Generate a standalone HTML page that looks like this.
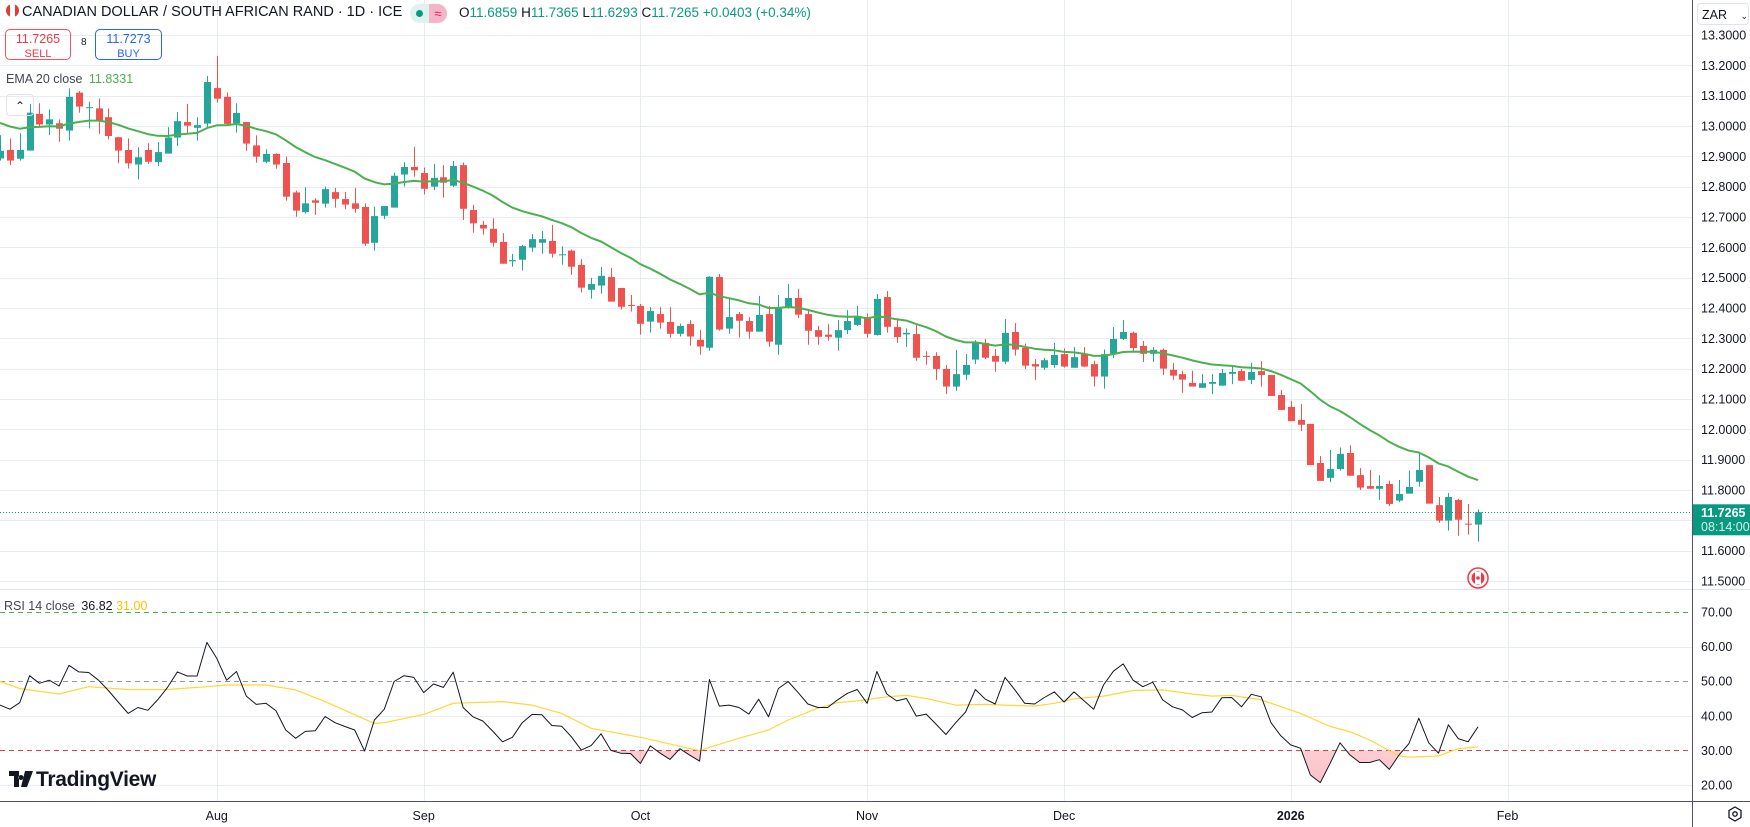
<!DOCTYPE html>
<html><head><meta charset="utf-8">
<style>
html,body{margin:0;padding:0;background:#fff;}
body{width:1750px;height:827px;overflow:hidden;position:relative;font-family:"Liberation Sans",Arial,sans-serif;color:#131722;}
svg{position:absolute;left:0;top:0;}
.abs{position:absolute;white-space:nowrap;}
</style></head>
<body>
<svg id="chart" width="1750" height="827"></svg>

<div class="abs" style="left:6px;top:4px;font-size:14.5px;color:#131722;">
<span style="display:inline-block;width:13px;height:13px;border-radius:50%;background:linear-gradient(90deg,#e53935 0 30%,#fff 30% 70%,#e53935 70%);vertical-align:-1px;margin-right:3px;"></span>CANADIAN DOLLAR / SOUTH AFRICAN RAND · 1D · ICE</div>
<div class="abs" style="left:410px;top:4px;width:37px;height:19px;border-radius:10px;background:#e0f2ef;overflow:hidden;">
<span style="position:absolute;left:6px;top:6px;width:7px;height:7px;border-radius:50%;background:#089981;"></span>
<span style="position:absolute;left:19px;top:0;width:18px;height:19px;background:#f3b6c8;color:#e91e63;font-size:13px;text-align:center;line-height:19px;">≈</span></div>
<div class="abs" style="left:459px;top:5px;font-size:13.5px;color:#131722;">O<span style="color:#089981">11.6859</span> H<span style="color:#089981">11.7365</span> L<span style="color:#089981">11.6293</span> C<span style="color:#089981">11.7265</span> <span style="color:#089981">+0.0403 (+0.34%)</span></div>

<div class="abs" style="left:5px;top:29px;width:66px;height:31px;border:1px solid #f7525f;border-radius:5px;text-align:center;color:#f23645;font-size:12.5px;line-height:14px;padding-top:2px;box-sizing:border-box;">11.7265<br><span style="font-size:11px">SELL</span></div>
<div class="abs" style="left:81px;top:37px;font-size:10px;">8</div>
<div class="abs" style="left:95px;top:29px;width:67px;height:31px;border:1px solid #2962ff;border-radius:5px;text-align:center;color:#2962ff;font-size:12.5px;line-height:14px;padding-top:2px;box-sizing:border-box;">11.7273<br><span style="font-size:11px">BUY</span></div>

<div class="abs" style="left:6px;top:72px;font-size:12.5px;color:#434651;">EMA 20 close <span style="color:#4caf50;margin-left:3px;">11.8331</span></div>
<div class="abs" style="left:6px;top:94px;width:26px;height:20px;border:1px solid #e0e3eb;border-radius:4px;text-align:center;font-size:12px;line-height:22px;">&#8963;</div>

<div class="abs" style="left:4px;top:599px;font-size:12.5px;color:#434651;">RSI 14 close <span style="color:#131722;margin-left:3px;">36.82</span> <span style="color:#f5c400;">31.00</span></div>

<div class="abs" style="left:1697px;top:3px;width:52px;height:22px;border:1px solid #e0e3eb;border-radius:4px;background:#fff;font-size:12.5px;line-height:22px;padding-left:4px;box-sizing:border-box;">ZAR <span style="font-size:9px;margin-left:10px;">&#8964;</span></div>

<div class="abs" style="left:9px;top:768px;font-size:21px;font-weight:bold;color:#131722;">
<svg width="24" height="16" style="position:relative;display:inline-block;vertical-align:-1px;"><path d="M0 0h10v16H5V5H0z M12 4a2.5 2.5 0 1 0 0.01 0z M16 0h8l-6 16h-6z" fill="#131722"/></svg><span style="margin-left:3px;letter-spacing:-0.3px;">TradingView</span></div>

<div class="abs" style="left:1727px;top:806px;width:16px;height:16px;">
<svg width="16" height="16" style="position:static"><polygon points="8,1 14,4.5 14,11.5 8,15 2,11.5 2,4.5" fill="none" stroke="#131722" stroke-width="1.3"/><circle cx="8" cy="8" r="2.2" fill="none" stroke="#131722" stroke-width="1.3"/></svg></div>

<script>
// ---- price data (daily candles) ----
const opens = [12.893,12.921,12.892,12.919,13.040,13.005,13.009,12.985,13.110,13.059,13.058,13.029,12.963,12.921,12.873,12.921,12.881,12.909,12.962,13.013,12.994,13.008,13.125,13.096,13.009,13.013,12.936,12.882,12.908,12.878,12.781,12.716,12.755,12.744,12.782,12.759,12.745,12.733,12.615,12.704,12.731,12.840,12.865,12.845,12.800,
12.831,12.803,12.871,12.723,12.674,12.661,12.618,12.554,12.559,12.599,12.615,12.621,12.575,12.589,12.542,12.460,12.474,12.502,12.466,12.410,12.407,12.355,12.380,12.354,12.315,12.347,12.295,12.269,12.502,12.332,12.380,12.357,12.322,12.380,12.279,12.403,12.433,12.380,12.327,12.312,12.302,
12.327,12.344,12.370,12.311,12.436,12.337,12.313,12.314,12.242,12.242,12.199,12.141,12.180,12.230,12.285,12.242,12.223,12.321,12.269,12.215,12.203,12.212,12.248,12.203,12.249,12.215,12.174,12.249,12.298,12.318,12.275,12.249,12.262,12.196,12.182,12.153,12.137,12.150,12.144,12.183,12.192,12.163,12.192,12.179,12.113,12.074,12.031,12.018,11.889,11.840,
11.869,11.922,11.849,11.813,11.804,11.820,11.765,11.788,11.827,11.882,11.750,11.699,11.767,11.689,11.6859];
const highs = [12.970,12.959,12.976,13.073,13.075,13.055,13.022,13.124,13.116,13.080,13.091,13.058,12.963,12.959,12.930,12.943,12.947,12.996,13.046,13.073,13.029,13.165,13.231,13.111,13.075,13.013,12.969,12.923,12.910,12.899,12.787,12.798,12.762,12.800,12.796,12.783,12.796,12.745,12.734,12.736,12.846,12.881,12.931,12.863,12.875,
12.871,12.885,12.880,12.740,12.687,12.696,12.647,12.578,12.608,12.644,12.654,12.674,12.604,12.593,12.561,12.499,12.535,12.532,12.466,12.443,12.413,12.403,12.403,12.403,12.349,12.360,12.327,12.505,12.512,12.433,12.387,12.370,12.440,12.407,12.443,12.479,12.463,12.393,12.341,12.347,12.360,
12.393,12.407,12.382,12.446,12.456,12.366,12.333,12.347,12.258,12.254,12.212,12.262,12.248,12.294,12.298,12.265,12.364,12.350,12.283,12.232,12.235,12.285,12.267,12.271,12.271,12.226,12.263,12.337,12.360,12.322,12.291,12.271,12.266,12.219,12.193,12.193,12.182,12.182,12.199,12.210,12.199,12.219,12.225,12.179,12.130,12.093,12.083,12.018,11.912,11.932,
11.940,11.948,11.872,11.866,11.849,11.831,11.833,11.864,11.926,11.882,11.777,11.790,11.771,11.754,11.7365];
const lows = [12.886,12.871,12.886,12.919,12.996,12.970,12.948,12.952,13.044,12.992,12.974,12.956,12.877,12.860,12.824,12.875,12.868,12.909,12.934,12.973,12.952,12.992,13.077,13.007,12.978,12.918,12.879,12.877,12.859,12.754,12.701,12.712,12.707,12.731,12.731,12.726,12.714,12.605,12.589,12.693,12.731,12.800,12.833,12.774,12.789,
12.764,12.798,12.690,12.648,12.642,12.602,12.546,12.536,12.523,12.585,12.579,12.566,12.543,12.509,12.451,12.431,12.447,12.421,12.395,12.388,12.312,12.319,12.332,12.302,12.306,12.276,12.246,12.259,12.325,12.315,12.303,12.299,12.322,12.272,12.246,12.398,12.367,12.279,12.279,12.292,12.259,
12.314,12.341,12.302,12.309,12.319,12.285,12.272,12.226,12.213,12.163,12.116,12.127,12.163,12.215,12.232,12.190,12.215,12.243,12.199,12.163,12.196,12.203,12.204,12.203,12.205,12.141,12.134,12.235,12.294,12.256,12.222,12.222,12.179,12.163,12.120,12.141,12.137,12.116,12.144,12.149,12.160,12.149,12.141,12.110,12.064,12.027,11.994,11.882,11.830,11.826,
11.864,11.847,11.800,11.804,11.767,11.747,11.760,11.788,11.811,11.755,11.692,11.666,11.649,11.653,11.6293];
const closes = [12.918,12.886,12.921,13.044,13.005,13.022,12.991,13.096,13.064,13.062,13.018,12.967,12.919,12.877,12.897,12.882,12.914,12.962,13.016,13.001,13.003,13.145,13.090,13.007,13.043,12.942,12.899,12.908,12.873,12.767,12.721,12.745,12.747,12.792,12.760,12.741,12.727,12.612,12.703,12.736,12.836,12.865,12.854,12.793,12.829,
12.813,12.868,12.727,12.679,12.662,12.615,12.546,12.558,12.604,12.627,12.627,12.579,12.577,12.536,12.467,12.479,12.506,12.421,12.404,12.408,12.348,12.390,12.352,12.315,12.341,12.306,12.273,12.503,12.329,12.370,12.358,12.322,12.377,12.289,12.403,12.433,12.378,12.325,12.305,12.305,12.327,
12.357,12.374,12.315,12.430,12.338,12.304,12.318,12.236,12.240,12.199,12.141,12.182,12.212,12.286,12.236,12.223,12.318,12.263,12.210,12.207,12.228,12.245,12.207,12.238,12.207,12.174,12.248,12.298,12.321,12.268,12.249,12.262,12.200,12.177,12.164,12.141,12.152,12.156,12.186,12.189,12.160,12.189,12.179,12.110,12.064,12.027,12.015,11.882,11.830,11.869,
11.919,11.847,11.808,11.804,11.813,11.754,11.787,11.810,11.866,11.755,11.699,11.777,11.702,11.687,11.7265];
const emaSeed = 13.02;
const priceTicks = [13.3,13.2,13.1,13.0,12.9,12.8,12.7,12.6,12.5,12.4,12.3,12.2,12.1,12.0,11.9,11.8,11.6,11.5];
const lastPrice = 11.7265;

// ---- RSI data ----
const rsiValues = [43.1,41.9,43.8,51.6,49.4,50.3,48.6,54.6,52.7,52.5,50.3,47.3,44.0,40.7,42.4,41.6,44.6,48.2,52.7,51.5,51.5,61.2,56.6,50.3,52.8,45.7,43.3,43.6,41.5,35.9,33.5,35.5,35.7,39.8,38.0,36.9,35.9,29.8,38.8,41.9,49.9,51.6,51.1,46.7,49.2,48.2,52.6,42.4,39.7,38.5,35.6,32.5,33.8,38.0,40.4,40.3,37.2,37.0,33.9,30.1,31.4,34.8,30.0,29.2,29.1,26.2,31.3,29.2,27.4,30.5,28.6,26.9,50.5,42.8,43.1,
42.4,40.5,44.8,39.7,47.9,49.9,46.7,43.4,42.4,42.4,44.6,46.5,47.6,43.6,52.8,46.3,44.3,45.0,39.9,40.5,37.6,34.6,38.0,41.1,47.6,44.8,43.4,51.1,47.5,43.6,43.4,45.3,46.9,44.0,46.9,44.4,41.9,48.9,52.9,55.0,50.3,48.4,49.7,44.6,42.6,41.7,39.5,40.9,41.1,45.2,45.3,42.6,46.2,45.5,38.0,34.2,31.6,30.6,22.9,20.7,26.3,32.2,28.7,26.5,26.5,27.3,24.5,28.7,32.0,39.3,32.2,29.2,37.4,33.4,32.5,36.82];
const rsiMaIndex = [0,2,6,9,13,17,21,23,27,30,33,38,39,43,46,51,54,57,60,65,71,72,75,78,80,83,85,87,90,92,94,97,100,102,105,107,109,112,115,118,121,123,125,128,132,135,137,139,142,143,146,148,150];
const rsiMaValues = [49.9,47.9,46.3,48.4,47.6,47.6,48.4,48.9,48.9,47.5,44.1,37.8,38.0,40.4,43.6,44.1,43.1,40.7,36.4,33.8,29.9,30.9,33.5,35.9,38.8,42.2,43.8,44.3,45.5,45.9,45.0,43.1,43.3,43.1,42.8,43.6,44.9,45.7,47.3,47.5,46.3,45.7,45.9,44.6,40.7,36.9,35.4,33.0,28.4,28.0,28.4,30.5,31.0];
const rsiTicks = [70,60,50,40,30,20];

// ---- time axis ----
const timeLabels = ["Aug","Sep","Oct","Nov","Dec","2026","Feb"];
const timeLabelIndex = [22,43,65,88,108,131,153];

// ---- axis functions ----
const PLOT_R = 1692;
const xOf = i => i * 9.853;
const yPrice = p => 35 + (13.3 - p) * 303.33;
const yRsi = v => 612 + (70 - v) * 3.46;

const NS = "http://www.w3.org/2000/svg";
const svg = document.getElementById("chart");
function mk(tag, attrs, parent){
  const e = document.createElementNS(NS, tag);
  for (const k in attrs) e.setAttribute(k, attrs[k]);
  (parent || svg).appendChild(e);
  return e;
}

// grid
const gGrid = mk("g", {});


timeLabelIndex.forEach(ix => {
  const x = Math.round(xOf(ix)) + 0.5;
  const vl = mk("line", {x1:x, x2:x, y1:0, y2:801, stroke:"#e8edf2", "stroke-width":1}, gGrid);
  
  
});
priceTicks.concat([11.7]).forEach(p => {
  const y = Math.round(yPrice(p)) + 0.5;
  const hl = mk("line", {x1:0, x2:PLOT_R, y1:y, y2:y, stroke:"#e8edf2", "stroke-width":1}, gGrid);
  
  
});
[60,40,20].forEach(v => {
  const y = Math.round(yRsi(v)) + 0.5;
  const hl = mk("line", {x1:0, x2:PLOT_R, y1:y, y2:y, stroke:"#e8edf2", "stroke-width":1}, gGrid);
  
  
});

// pane separator & axes borders
const sep = mk("line", {x1:0, x2:1750, y1:589.5, y2:589.5, stroke:"#e0e3eb", "stroke-width":1});


const bAxis = mk("line", {x1:0, x2:1750, y1:801.5, y2:801.5, stroke:"#50535e", "stroke-width":1});


const rAxis = mk("line", {x1:1692.5, x2:1692.5, y1:0, y2:827, stroke:"#50535e", "stroke-width":1});



// candles
const gC = mk("g", {});


for (let i = 0; i < closes.length; i++) {
  const up = closes[i] >= opens[i];
  const col = up ? "#26a69a" : "#ef5350";
  const x = Math.round(xOf(i)) + 0.5;
  const g = mk("g", {}, gC);
  
  
  mk("line", {x1:x, x2:x, y1:yPrice(highs[i]), y2:yPrice(lows[i]), stroke:col, "stroke-width":1}, g);
  const yt = yPrice(Math.max(opens[i], closes[i]));
  const yb = yPrice(Math.min(opens[i], closes[i]));
  mk("rect", {x:x-3.5, y:yt, width:7, height:Math.max(1, yb-yt), fill:col}, g);
}

// EMA 20
let ema = emaSeed, pts = [];
const alpha = 2 / 21;
for (let i = 0; i < closes.length; i++) {
  ema = alpha * closes[i] + (1 - alpha) * ema;
  pts.push(xOf(i).toFixed(1) + "," + yPrice(ema).toFixed(1));
}
const emaLine = mk("polyline", {points:pts.join(" "), fill:"none", stroke:"#4caf50", "stroke-width":2, "stroke-linejoin":"round"});



// last price line
const lpY = Math.round(yPrice(lastPrice)) + 0.5;
const lp = mk("line", {x1:0, x2:PLOT_R, y1:lpY, y2:lpY, stroke:"#089981", "stroke-width":1, "stroke-dasharray":"1 2"});



// price axis labels
priceTicks.forEach(p => {
  const t = mk("text", {x:1701, y:yPrice(p)+4.5, "font-size":"12.5", fill:"#131722", "font-family":"Liberation Sans, sans-serif"});
  t.textContent = p.toFixed(4);
  
  
});
const lpBox = mk("rect", {x:1693, y:yPrice(lastPrice)-8, width:57, height:31, fill:"#089981"});


const lpT = mk("text", {x:1701, y:yPrice(lastPrice)+4.5, "font-size":"12.5", fill:"#fff", "font-weight":"bold", "font-family":"Liberation Sans, sans-serif"});
lpT.textContent = lastPrice.toFixed(4);


const cdT = mk("text", {x:1701, y:yPrice(lastPrice)+18.5, "font-size":"12.5", fill:"#d8f0eb", "font-family":"Liberation Sans, sans-serif"});
cdT.textContent = "08:14:00";



// CAD event marker
const mark = mk("g", {});


mk("circle", {cx:1478, cy:578, r:10, fill:"#fff", stroke:"#f23645", "stroke-width":1.5}, mark);
mk("circle", {cx:1478, cy:578, r:6.5, fill:"#f23645"}, mark);
mk("rect", {x:1475, y:572, width:6, height:12, fill:"#fff"}, mark);
mk("circle", {cx:1478, cy:578, r:1.8, fill:"#f23645"}, mark);

// RSI levels
[[70,"#4caf50"],[50,"#9598a1"],[30,"#f23645"]].forEach(([v,c]) => {
  const y = Math.round(yRsi(v)) + 0.5;
  const l = mk("line", {x1:0, x2:PLOT_R, y1:y, y2:y, stroke:c, "stroke-width":1, "stroke-dasharray":"5 4"});
  
  
});

// RSI oversold fill
const defs = mk("defs", {});
const cp = mk("clipPath", {id:"below30"}, defs);
mk("rect", {x:0, y:yRsi(30), width:PLOT_R, height:60}, cp);
const grad = mk("linearGradient", {id:"osGrad", x1:0, y1:0, x2:0, y2:1}, defs);
mk("stop", {offset:"0", "stop-color":"#f23645", "stop-opacity":"0.05"}, grad);
mk("stop", {offset:"1", "stop-color":"#f23645", "stop-opacity":"0.3"}, grad);
const rsiPts = rsiValues.map((v,i) => xOf(i).toFixed(1) + "," + yRsi(v).toFixed(1));
const fillPts = rsiPts.concat([xOf(rsiValues.length-1).toFixed(1)+","+yRsi(30), "0,"+yRsi(30)]);
const osFill = mk("polygon", {points:fillPts.join(" "), fill:"url(#osGrad)", "clip-path":"url(#below30)"});



// RSI MA
const maPts = rsiMaIndex.map((ix,k) => xOf(ix).toFixed(1) + "," + yRsi(rsiMaValues[k]).toFixed(1));
const maLine = mk("polyline", {points:maPts.join(" "), fill:"none", stroke:"#fdd835", "stroke-width":1.2, "stroke-linejoin":"round"});



// RSI line
const rsiLine = mk("polyline", {points:rsiPts.join(" "), fill:"none", stroke:"#131722", "stroke-width":1, "stroke-linejoin":"round"});



// RSI axis labels
rsiTicks.forEach(v => {
  const t = mk("text", {x:1701, y:yRsi(v)+4.5, "font-size":"12.5", fill:"#131722", "font-family":"Liberation Sans, sans-serif"});
  t.textContent = v.toFixed(2);
  
  
});

// time axis labels
timeLabels.forEach((lab,k) => {
  const t = mk("text", {x:xOf(timeLabelIndex[k]), y:820, "font-size":"12.5", fill:"#131722", "text-anchor":"middle", "font-family":"Liberation Sans, sans-serif", "font-weight": lab === "2026" ? "bold" : "normal"});
  t.textContent = lab;
  
  
});
</script>
</body></html>
